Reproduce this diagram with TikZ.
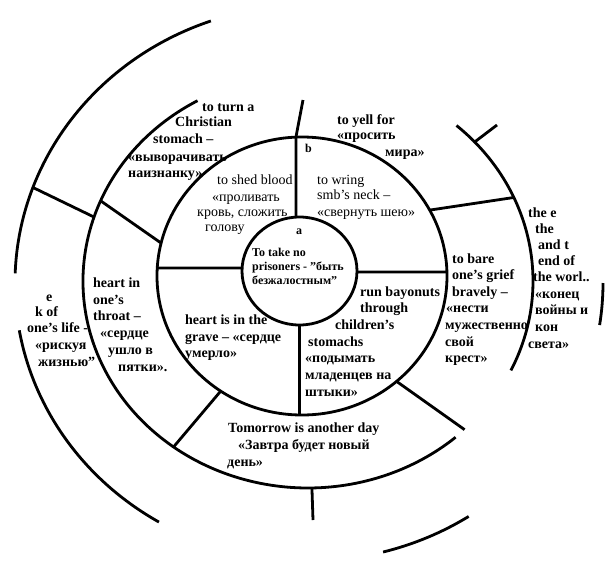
\documentclass[tikz,border=0pt]{standalone}
\usepackage{fontspec}
\setmainfont{Liberation Serif}
\usetikzlibrary{calc}
\begin{document}
\begin{tikzpicture}[x=1pt,y=-1pt,
  ring/.style={line width=2.8pt},
  spoke/.style={line width=2.8pt},
  bt/.style={font=\bfseries\fontsize{14}{16}\selectfont, anchor=base west, inner sep=0pt},
  rt/.style={font=\fontsize{14}{16}\selectfont, anchor=base west, inner sep=0pt},
  st/.style={font=\bfseries\fontsize{12}{14}\selectfont, anchor=base west, inner sep=0pt},
]
\useasboundingbox[fill=white] (0,0) rectangle (607,568);
% centres
\coordinate (C) at (299.5,271);
\coordinate (M) at (302,276);
\coordinate (T) at (308,281);
\coordinate (O) at (309,283);

% ---- texts ----
\node[bt] (tl1) at (202,111) {to turn a};
\node[bt] (tl2) at (175,126) {Christian};
\node[bt] (tl3) at (153,143) {stomach –};
\node[bt] (tl4) at (128,161) {«выворачивать};
\node[bt] (tl5) at (128,177) {наизнанку»};

\node[bt] (tr1) at (337,124) {to yell for};
\node[bt] (tr2) at (337,139) {«просить};
\node[bt] (tr3) at (385,156) {мира»};

\node[rt] (sb1) at (217,184) {to shed blood};
\node[rt] (sb2) at (212,201) {«проливать};
\node[rt] (sb3) at (197,216) {кровь, сложить};
\node[rt] (sb4) at (205,231) {голову};

\node[rt] (wr1) at (317,184) {to wring};
\node[rt] (wr2) at (317,199) {smb’s neck –};
\node[rt] (wr3) at (317,216) {«свернуть шею»};

\node[st] (lb) at (305,152) {b};
\node[st] (la) at (296,234) {a};

\node[st] (in1) at (252,256) {To take no};
\node[st] (in2) at (252,270) {prisoners - "быть};
\node[st] (in3) at (252,284) {безжалостным"};

\node[bt] (gr1) at (452,263) {to bare};
\node[bt] (gr2) at (452,279) {one’s grief};
\node[bt] (gr3) at (452,296) {bravely –};
\node[bt] (gr4) at (446,312) {«нести};
\node[bt] (gr5) at (445,329) {мужественно};
\node[bt] (gr6) at (445,346) {свой};
\node[bt] (gr7) at (445,362) {крест»};

\node[bt] (en1) at (528,217) {the e};
\node[bt] (en2) at (535,233) {the};
\node[bt] (en3) at (538,249) {and t};
\node[bt] (en4) at (538,265) {end of};
\node[bt] (en5) at (533,281) {the worl..};
\node[bt] (en6) at (535,298) {«конец};
\node[bt] (en7) at (535,314) {войны и};
\node[bt] (en8) at (535,331) {кон};
\node[bt] (en9) at (528,348) {света»};

\node[bt] (rb1) at (360,296) {run bayonuts};
\node[bt] (rb2) at (360,312) {through};
\node[bt] (rb3) at (335,329) {children’s};
\node[bt] (rb4) at (308,346) {stomachs};
\node[bt] (rb5) at (305,362) {«подымать};
\node[bt] (rb6) at (305,379) {младенцев на};
\node[bt] (rb7) at (305,396) {штыки»};

\node[bt] (ht1) at (93,287) {heart in};
\node[bt] (ht2) at (93,304) {one’s};
\node[bt] (ht3) at (93,320) {throat –};
\node[bt] (ht4) at (100,337) {«сердце};
\node[bt] (ht5) at (108,354) {ушло в};
\node[bt] (ht6) at (118,371) {пятки».};

\node[bt] (lf1) at (46,301) {e};
\node[bt] (lf2) at (35,316) {k of};
\node[bt] (lf3) at (27,332) {one’s life -};
\node[bt] (lf4) at (35,349) {«рискуя};
\node[bt] (lf5) at (38,366) {жизнью"};

\node[bt] (hg1) at (185,324) {heart is in the};
\node[bt] (hg2) at (185,341) {grave – «сердце};
\node[bt] (hg3) at (185,357) {умерло»};

\node[bt] (tm1) at (228,432) {Tomorrow is another day};
\node[bt] (tm2) at (238,449) {«Завтра будет новый};
\node[bt] (tm3) at (227,466) {день»};

% ---- rings ----
\draw[ring] (C) ellipse [x radius=57.5, y radius=54];
\draw[ring] (M) ellipse [x radius=145, y radius=139];
% third ring
\draw[ring] ($(T)+(-119.4:225 and 207)$) arc[start angle=-119.4, end angle=-311, x radius=225, y radius=207];
\draw[ring] ($(T)+(-48.7:225 and 207)$) arc[start angle=-48.7, end angle=25.6, x radius=225, y radius=207];
% outer ring
\draw[ring] ($(O)+(-109.5:294 and 278)$) arc[start angle=-109.5, end angle=-178, x radius=294, y radius=278];
\draw[ring] ($(O)+(-189.8:294 and 278)$) arc[start angle=-189.8, end angle=-239.3, x radius=294, y radius=278];
\draw[ring] ($(O)+(-284.6:294 and 278)$) arc[start angle=-284.6, end angle=-302.9, x radius=294, y radius=278];
\draw[ring] ($(O)+(0:294 and 278)$) arc[start angle=0, end angle=8.7, x radius=294, y radius=278];

% ---- spoke end points ----
\coordinate (i1) at ($(C)+(-93.5:57.5 and 54)$);
\coordinate (m1) at ($(M)+(-92.4:145 and 139)$);
\coordinate (f1) at (303,100);
\coordinate (i2) at ($(C)+(-176.8:57.5 and 54)$);
\coordinate (m2) at ($(M)+(-176.7:145 and 139)$);
\coordinate (i3) at ($(C)+(1:57.5 and 54)$);
\coordinate (m3) at ($(M)+(-1.65:145 and 139)$);
\coordinate (i4) at ($(C)+(90:57.5 and 54)$);
\coordinate (m4) at ($(M)+(91:145 and 139)$);
\coordinate (m5) at ($(M)+(-166.3:145 and 139)$);
\coordinate (t5) at ($(T)+(-157.2:225 and 207)$);
\coordinate (t6) at ($(T)+(-162:225 and 207)$);
\coordinate (o6) at ($(O)+(-159.9:294 and 278)$);
\coordinate (m7) at ($(M)+(-28.3:145 and 139)$);
\coordinate (t7) at ($(T)+(-23.8:225 and 207)$);
\coordinate (m8) at ($(M)+(124.1:145 and 139)$);
\coordinate (t8) at ($(T)+(126.7:225 and 207)$);
\coordinate (m9) at ($(M)+(49.3:145 and 139)$);
\coordinate (t9) at ($(T)+(45.9:225 and 207)$);
\coordinate (t10) at ($(T)+(89:225 and 207)$);
\coordinate (f10) at (313,520);
\coordinate (t11) at ($(T)+(-42.2:225 and 207)$);
\coordinate (f11) at (497,125);

% ---- spokes ----
\draw[spoke] (i1) -- (m1) -- (f1);
\draw[spoke] (i2) -- (m2);
\draw[spoke] (i3) -- (m3);
\draw[spoke] (i4) -- (m4);
\draw[spoke] (m5) -- (t5);
\draw[spoke] (t6) -- (o6);
\draw[spoke] (m7) -- (t7);
\draw[spoke] (m8) -- (t8);
\draw[spoke] (m9) -- (t9);
\draw[spoke] (t10) -- (f10);
\draw[spoke] (t11) -- (f11);
\end{tikzpicture}
\end{document}
